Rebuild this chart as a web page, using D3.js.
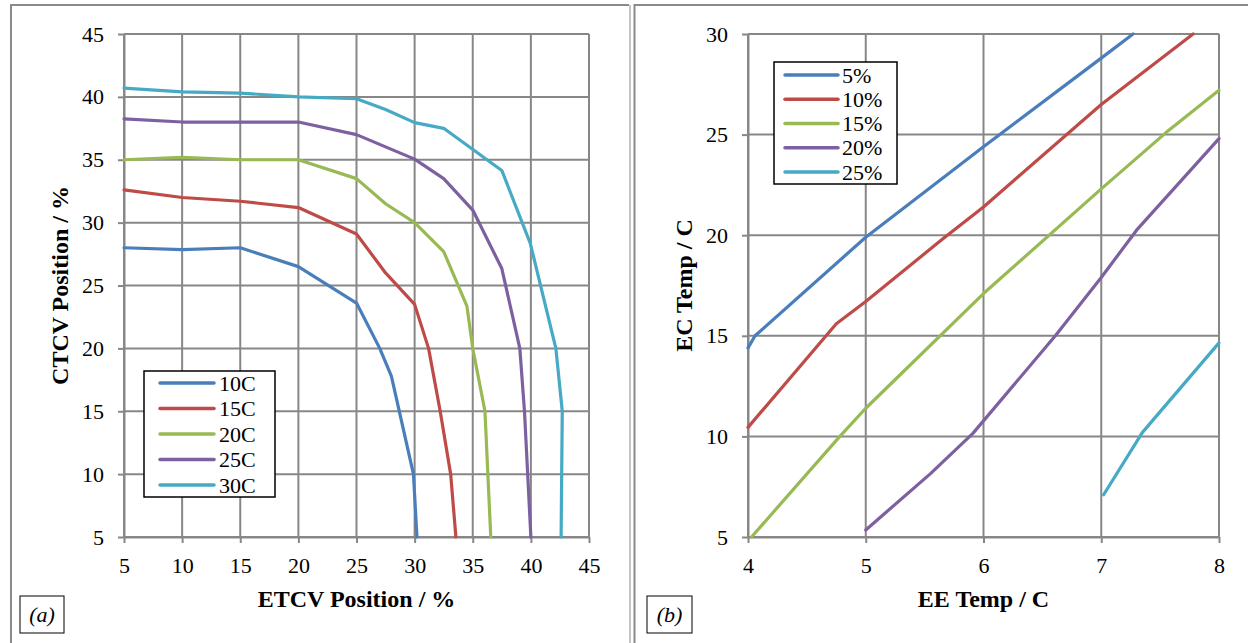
<!DOCTYPE html>
<html>
<head>
<meta charset="utf-8">
<script src="https://cdn.jsdelivr.net/npm/d3@7/dist/d3.min.js"></script>
<style>
  html, body { margin: 0; padding: 0; background: #fff; }
  svg { display: block; }
  text { font-family: "Liberation Serif", "Times New Roman", serif; fill: #000; }
</style>
</head>
<body>
<svg id="chart" width="1248" height="643"></svg>
<script>
// ---------- Panel (a) data: ETCV position (x, %) vs CTCV position (y, %) ----------
const seriesA = ["10C", "15C", "20C", "25C", "30C"];
const a10C = [[5,28.0],[10,27.85],[15,28.0],[20,26.5],[25,23.6],[27,20.0],[28,17.8],[29.9,10.0],[30.2,5.0]];
const a15C = [[5,32.6],[10,32.0],[15,31.7],[20,31.2],[25,29.1],[27.5,26.0],[30,23.5],[31.2,20.0],[32.2,15.0],[33.1,10.0],[33.55,5.0]];
const a20C = [[5,35.0],[10,35.2],[15,35.0],[20,35.0],[25,33.5],[27.5,31.5],[30,30.0],[32.5,27.7],[34.5,23.35],[35.0,20.0],[36.05,15.0],[36.55,5.0]];
const a25C = [[5,38.25],[10,38.0],[15,38.0],[20,38.0],[25,37.0],[30,35.05],[32.5,33.5],[35,31.0],[37.5,26.35],[39.05,20.0],[39.45,15.0],[40.0,5.0]];
const a30C = [[5,40.7],[10,40.4],[15,40.3],[20,40.0],[25,39.85],[27.5,39.0],[30,37.95],[32.5,37.5],[37.5,34.15],[39.95,28.35],[42.15,20.0],[42.7,15.0],[42.6,5.0]];
const aTicksX = [5,10,15,20,25,30,35,40,45];
const aTicksY = [5,10,15,20,25,30,35,40,45];

// ---------- Panel (b) data: EE temp (x, C) vs EC temp (y, C) ----------
const seriesB = ["5%", "10%", "15%", "20%", "25%"];
const b5  = [[4.0,14.4],[4.06,15.0],[5.0,19.9],[6.0,24.4],[7.0,28.8],[7.27,30.0]];
const b10 = [[4.0,10.45],[4.75,15.6],[5.0,16.7],[5.65,19.8],[6.0,21.4],[7.0,26.5],[7.78,30.0]];
const b15 = [[4.03,5.0],[4.78,10.0],[5.0,11.4],[6.0,17.1],[7.0,22.3],[7.55,25.1],[8.0,27.2]];
const b20 = [[5.0,5.35],[5.55,8.15],[5.91,10.15],[6.61,15.0],[7.0,17.9],[7.3,20.25],[8.0,24.8]];
const b25 = [[7.02,7.1],[7.35,10.2],[8.0,14.65]];
const bTicksX = [4,5,6,7,8];
const bTicksY = [5,10,15,20,25,30];

const colors = ["#4A7EBB", "#BE4B48", "#98B954", "#7D60A0", "#46AAC5"];
const GRID = "#878787";

const svg = d3.select("#chart");

// ---------- Panel frames ----------
svg.append("path").attr("d", "M11,643 V5 H629").attr("fill", "none").attr("stroke", "#8a8a8a").attr("stroke-width", 2);
svg.append("line").attr("x1", 630).attr("x2", 630).attr("y1", 5).attr("y2", 643).attr("stroke", "#c4c4c4").attr("stroke-width", 2);
svg.append("path").attr("d", "M634.5,643 V5 H1248").attr("fill", "none").attr("stroke", "#8a8a8a").attr("stroke-width", 2);

function drawPanel(cfg) {
  const x = d3.scaleLinear().domain(cfg.xDomain).range([cfg.x0, cfg.x1]);
  const y = d3.scaleLinear().domain(cfg.yDomain).range([cfg.y0, cfg.y1]);
  const g = svg.append("g");

  // gridlines
  g.append("g").selectAll("line.vx").data(cfg.ticksX).join("line")
    .attr("x1", d => x(d)).attr("x2", d => x(d)).attr("y1", cfg.y1).attr("y2", cfg.y0)
    .attr("stroke", GRID).attr("stroke-width", 2);
  g.append("g").selectAll("line.hy").data(cfg.ticksY).join("line")
    .attr("x1", cfg.x0).attr("x2", cfg.x1).attr("y1", d => y(d)).attr("y2", d => y(d))
    .attr("stroke", GRID).attr("stroke-width", 2);

  // axes
  const ax = g.append("g").attr("transform", `translate(0,${cfg.y0})`)
    .call(d3.axisBottom(x).tickValues(cfg.ticksX).tickFormat(d3.format("d")).tickSize(6).tickSizeOuter(0).tickPadding(14));
  const ay = g.append("g").attr("transform", `translate(${cfg.x0},0)`)
    .call(d3.axisLeft(y).tickValues(cfg.ticksY).tickFormat(d3.format("d")).tickSize(6).tickSizeOuter(0).tickPadding(14));
  [ax, ay].forEach(a => {
    a.selectAll("path.domain").attr("stroke", GRID).attr("stroke-width", 2);
    a.selectAll(".tick line").attr("stroke", GRID).attr("stroke-width", 2);
    a.selectAll(".tick text").style("font-family", '"Liberation Serif","Times New Roman",serif')
      .style("font-size", "22px").attr("fill", "#000");
  });

  // series
  const line = d3.line().x(d => x(d[0])).y(d => y(d[1]));
  cfg.data.forEach((s, i) => {
    g.append("path").datum(s).attr("d", line)
      .attr("fill", "none").attr("stroke", colors[i]).attr("stroke-width", 3.2)
      .attr("stroke-linejoin", "round").attr("stroke-linecap", "round");
  });

  // axis titles
  g.append("text").attr("x", (cfg.x0 + cfg.x1) / 2).attr("y", 607)
    .attr("text-anchor", "middle").style("font-size", "24px").style("font-weight", "bold")
    .text(cfg.xTitle);
  g.append("text").attr("transform", `translate(${cfg.yTitleX},${(cfg.y0 + cfg.y1) / 2}) rotate(-90)`)
    .attr("text-anchor", "middle").style("font-size", "24px").style("font-weight", "bold")
    .text(cfg.yTitle);

  // legend
  const L = cfg.legend;
  g.append("rect").attr("x", L.x).attr("y", L.y).attr("width", L.w).attr("height", L.h)
    .attr("fill", "#fff").attr("stroke", "#000").attr("stroke-width", 1.5);
  cfg.names.forEach((n, i) => {
    const yy = L.y + L.first + i * L.step;
    g.append("line").attr("x1", L.x + L.lx0).attr("x2", L.x + L.lx1).attr("y1", yy).attr("y2", yy)
      .attr("stroke", colors[i]).attr("stroke-width", 3.5).attr("stroke-linecap", "round");
    g.append("text").attr("x", L.x + L.tx).attr("y", yy).attr("dy", "0.35em")
      .style("font-size", "22px").text(n);
  });

  // panel label box
  const P = cfg.label;
  g.append("rect").attr("x", P.x).attr("y", P.y).attr("width", P.w).attr("height", P.h)
    .attr("fill", "#fff").attr("stroke", "#000").attr("stroke-width", 1);
  g.append("text").attr("x", P.x + P.w / 2).attr("y", P.y + P.h / 2).attr("dy", "0.35em")
    .attr("text-anchor", "middle").style("font-size", "22px").style("font-style", "italic")
    .text(P.text);
}

drawPanel({
  xDomain: [5, 45], yDomain: [5, 45],
  x0: 124, x1: 589, y0: 537, y1: 34,
  ticksX: aTicksX, ticksY: aTicksY,
  data: [a10C, a15C, a20C, a25C, a30C], names: seriesA,
  xTitle: "ETCV Position / %", yTitle: "CTCV Position / %", yTitleX: 68,
  legend: { x: 144, y: 371, w: 131, h: 126, first: 12, step: 25.5, lx0: 16, lx1: 70, tx: 75 },
  label: { x: 20, y: 596, w: 44, h: 37, text: "(a)" }
});

drawPanel({
  xDomain: [4, 8], yDomain: [5, 30],
  x0: 748, x1: 1219, y0: 537, y1: 34,
  ticksX: bTicksX, ticksY: bTicksY,
  data: [b5, b10, b15, b20, b25], names: seriesB,
  xTitle: "EE Temp / C", yTitle: "EC Temp / C", yTitleX: 692,
  legend: { x: 774, y: 62, w: 123, h: 122, first: 13, step: 24.25, lx0: 11, lx1: 64, tx: 68 },
  label: { x: 647, y: 596, w: 45, h: 37, text: "(b)" }
});
</script>
</body>
</html>
